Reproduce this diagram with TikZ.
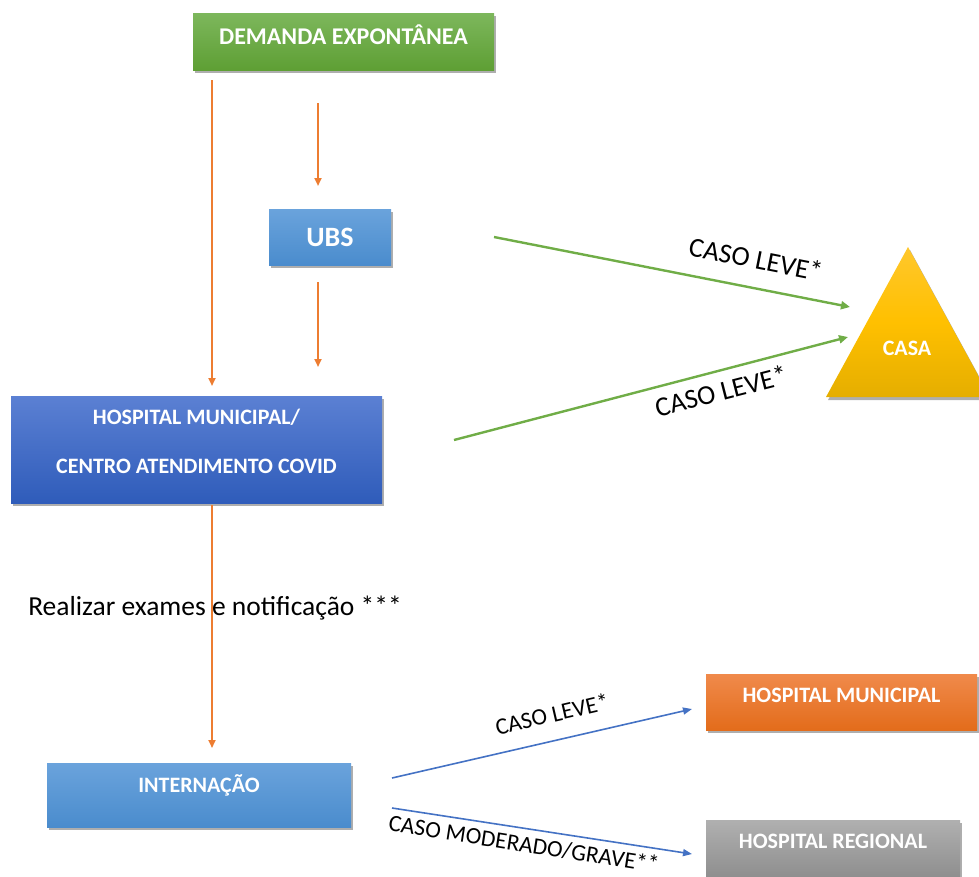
\documentclass[tikz,border=0pt]{standalone}
\usepackage{fontspec}
\setmainfont{Carlito}
\usetikzlibrary{arrows.meta,shadows}
\definecolor{gtop}{HTML}{7DB75C}\definecolor{gbot}{HTML}{5E9F34}
\definecolor{btop}{HTML}{6AA3DC}\definecolor{bbot}{HTML}{4A8CCD}
\definecolor{dtop}{HTML}{5B80D3}\definecolor{dbot}{HTML}{2F5CBA}
\definecolor{otop}{HTML}{F08A4B}\definecolor{obot}{HTML}{E36C1B}
\definecolor{rtop}{HTML}{B0B0B0}\definecolor{rbot}{HTML}{8F8F8F}
\definecolor{ytop}{HTML}{FFC72C}\definecolor{ymid}{HTML}{FFC000}\definecolor{ybot}{HTML}{E5AE00}
\definecolor{aor}{HTML}{ED7D31}\definecolor{agr}{HTML}{70AD47}\definecolor{abl}{HTML}{4472C4}
\tikzset{
  box/.style={rectangle, inner sep=0pt, text=white, align=center,
    drop shadow={opacity=0.45, shadow xshift=2pt, shadow yshift=-3pt, fill=black!70}},
  bf/.style={font=\bfseries\fontsize{#1}{#1}\selectfont},
  lbl/.style={font=\fontsize{#1}{#1}\selectfont, text=black, inner sep=0pt},
  oarr/.style={draw=aor, line width=2pt, -{Triangle[length=8pt,width=7pt]}},
  garr/.style={draw=agr, line width=2.4pt, -{Triangle[length=9pt,width=8pt]}},
  barr/.style={draw=abl, line width=1.6pt, -{Triangle[length=9pt,width=7pt]}},
}
\begin{document}
\begin{tikzpicture}[x=1pt,y=-1pt]
\useasboundingbox (0,0) rectangle (979,876);
% boxes
\node[box, bf=24, top color=gtop, bottom color=gbot, minimum width=301pt, minimum height=57pt, text depth=13pt]
  (dem) at (343.5,41.5) {DEMANDA EXPONTÂNEA};
\node[box, bf=28, top color=btop, bottom color=bbot, minimum width=122pt, minimum height=56pt]
  (ubs) at (330,237) {UBS};
\node[box, bf=22, top color=dtop, bottom color=dbot, minimum width=371pt, minimum height=107pt, text depth=16pt]
  (hosp) at (196.5,449.5) {HOSPITAL MUNICIPAL/\\[27pt]CENTRO ATENDIMENTO COVID};
\node[box, bf=22, top color=btop, bottom color=bbot, minimum width=304pt, minimum height=64pt, text depth=22pt]
  (int) at (199,795) {INTERNAÇÃO};
\node[box, bf=22, top color=otop, bottom color=obot, minimum width=271pt, minimum height=56pt, text depth=14pt]
  (hm) at (841.5,702) {HOSPITAL MUNICIPAL};
\node[box, bf=22, top color=rtop, bottom color=rbot, minimum width=254pt, minimum height=56pt, text depth=14pt]
  (hr) at (833,848) {HOSPITAL REGIONAL};
% triangle
\path[top color=ytop, bottom color=ybot, middle color=ymid,
  drop shadow={opacity=0.45, shadow xshift=2pt, shadow yshift=-3pt, fill=black!70}]
  (908,247) -- (990,397) -- (826,397) -- cycle;
\node[bf=22, text=white, inner sep=0pt] (casa) at (907,348) {CASA};
% endpoints
\coordinate (d1) at (212,80);  \coordinate (h1) at (212,386);
\coordinate (d2) at (318,103); \coordinate (u1) at (318,186);
\coordinate (u2) at (318,282); \coordinate (h2) at (318,367);
\coordinate (h3) at (212,505); \coordinate (i1) at (212,748);
\coordinate (u3) at (494,237); \coordinate (c1) at (850,307);
\coordinate (h4) at (454,440); \coordinate (c2) at (848,337);
\coordinate (i2) at (392,778); \coordinate (m1) at (692,709);
\coordinate (i3) at (392,808); \coordinate (r1) at (692,854);
% arrows
\draw[oarr] (d1) -- (h1);
\draw[oarr] (d2) -- (u1);
\draw[oarr] (u2) -- (h2);
\draw[oarr] (h3) -- (i1);
\draw[garr] (u3) -- (c1);
\draw[garr] (h4) -- (c2);
\draw[barr] (i2) -- (m1);
\draw[barr] (i3) -- (r1);
% labels
\node[lbl=27.5, rotate=-11.2] (l1) at (756,259) {CASO LEVE*};
\node[lbl=27.5, rotate=14.4] (l2) at (721,391) {CASO LEVE*};
\node[lbl=27.5] (l3) at (215,608) {Realizar exames e notificação ***};
\node[lbl=23.5, rotate=13] (l4) at (552,714) {CASO LEVE*};
\node[lbl=23.5, rotate=-8.8] (l5) at (524,844) {CASO MODERADO/GRAVE**};
\end{tikzpicture}
\end{document}
